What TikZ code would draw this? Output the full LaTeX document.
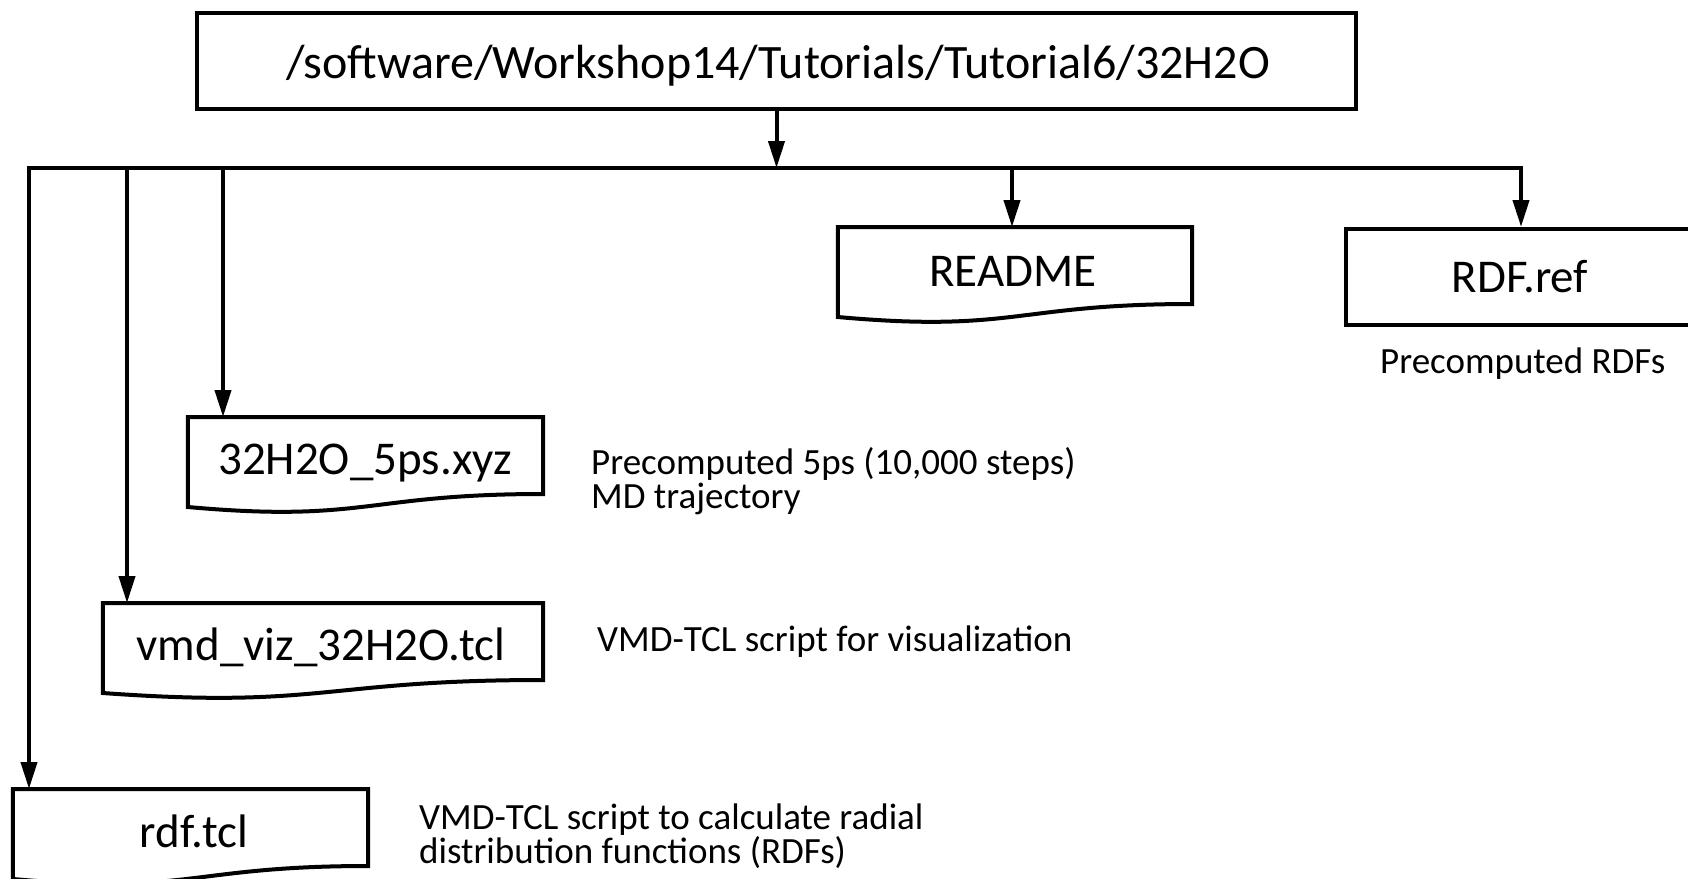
\documentclass[tikz,border=0pt]{standalone}
\usepackage{fontspec}
\setmainfont{Carlito}
\usetikzlibrary{arrows.meta,calc}
\newcommand\docoutline[1]{%
  \draw[docline] (#1.north west) -- (#1.north east)
    -- ($(#1.north east)+(0,77)$)
    .. controls ($(#1.north)+(0,77)$) and ($(#1.north)+(0,106)$) .. ($(#1.north west)+(0,90)$)
    -- cycle;}
\begin{document}
\begin{tikzpicture}[x=1pt,y=-1pt,
  docline/.style={line width=4pt, line join=miter},
  conn/.style={-{Triangle[length=27pt,width=16pt]}, line width=4pt},
  biconn/.style={{Triangle[length=27pt,width=16pt]}-{Triangle[length=27pt,width=16pt]}, line width=4pt, line join=miter},
  lbl/.style={font=\fontsize{47}{56}\selectfont, inner sep=0pt, anchor=base},
  docarea/.style={inner sep=0pt, minimum height=96pt, anchor=north},
  note/.style={font=\fontsize{37}{44}\selectfont, inner sep=0pt, anchor=base west, text height=0.7em, text depth=0.2em},
]
\useasboundingbox (0,0) rectangle (1688,878);

% root box
\node[draw, line width=3.5pt, minimum width=1159pt, minimum height=96pt, inner sep=0pt] (root) at (776.5,61) {};
\node[font=\fontsize{48}{56}\selectfont, inner sep=0pt, anchor=base] (roottext) at (778,78) {/software/Workshop14/Tutorials/Tutorial6/32H2O};

% document-shaped file boxes (outline drawn from node anchors)
\node[docarea, minimum width=354pt] (readme) at (1015,227) {};
\node[docarea, minimum width=355pt] (xyz) at (365.5,417) {};
\node[docarea, minimum width=440pt] (vmd) at (323,603) {};
\node[docarea, minimum width=355pt] (rdf) at (190.5,789) {};
\docoutline{readme}
\docoutline{xyz}
\docoutline{vmd}
\docoutline{rdf}

% plain rectangle box
\node[draw, line width=3.5pt, minimum width=352pt, minimum height=96pt, inner sep=0pt, anchor=north] (rdfref) at (1522,227) {};

% labels in boxes
\node[lbl] (readmetext) at (1013,286) {README};
\node[lbl] (xyztext) at (365,474) {32H2O\_5ps.xyz};
\node[lbl] (vmdtext) at (321,660) {vmd\_viz\_32H2O.tcl};
\node[lbl] (rdftext) at (194,847) {rdf.tcl};
\node[lbl] (rdfreftext) at (1520,292) {RDF.ref};

% notes
\node[note] (n1) at (1380,373) {Precomputed RDFs};
\node[note] (n2a) at (591,474) {Precomputed 5ps (10,000 steps)};
\node[note] (n2b) at (591,508) {MD trajectory};
\node[note] (n3) at (597,651) {VMD-TCL script for visualization};
\node[note] (n4a) at (419,829) {VMD-TCL script to calculate radial};
\node[note] (n4b) at (419,863) {distribution functions (RDFs)};

% bus coordinates
\coordinate (busL) at (29,168);
\coordinate (busR) at (1521,168);
\coordinate (tapVmd) at (127,168);
\coordinate (tapXyz) at (223,168);
\coordinate (tapReadme) at (1012,168);

% connectors
\draw[conn] (root.south) -- (root.south |- busL);
\draw[biconn] (busL |- rdf.north) -- (busL) -- (busR) -- (busR |- rdfref.north);
\draw[conn] (tapVmd) -- (tapVmd |- vmd.north);
\draw[conn] (tapXyz) -- (tapXyz |- xyz.north);
\draw[conn] (tapReadme) -- (tapReadme |- readme.north);
\end{tikzpicture}
\end{document}
